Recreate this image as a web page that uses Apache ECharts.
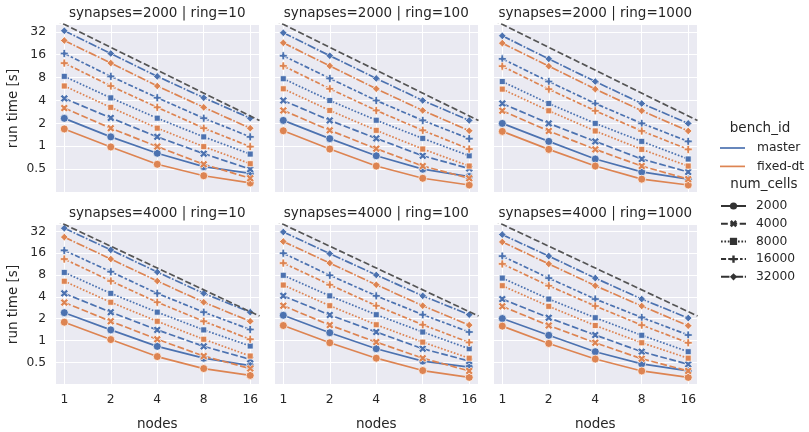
<!DOCTYPE html>
<html>
<head>
<meta charset="utf-8">
<script src="https://cdn.jsdelivr.net/npm/echarts@6/dist/echarts.min.js"></script>
<style>
html,body{margin:0;padding:0;background:#fff;}
#chart{width:809px;height:432px;}
</style>
</head>
<body>
<div id="chart"></div>
<script>
// ---------------- data ----------------
const NODES = [1, 2, 4, 8, 16];
const X_TICKS = [1, 2, 4, 8, 16];
const Y_TICKS = [0.5, 1, 2, 4, 8, 16, 32];
const BENCH_IDS = ['master', 'fixed-dt'];
const NUM_CELLS = ['2000', '4000', '8000', '16000', '32000'];
const PANEL_TITLES = [
  'synapses=2000 | ring=10', 'synapses=2000 | ring=100', 'synapses=2000 | ring=1000',
  'synapses=4000 | ring=10', 'synapses=4000 | ring=100', 'synapses=4000 | ring=1000'
];
// ideal-scaling reference: run time on 1 node, halves with every doubling
const IDEAL_T1 = [40, 40, 40, 40, 40, 40];

// rows: num_cells 2000, 4000, 8000, 16000, 32000; columns: nodes 1,2,4,8,16
const s2000_r10_master = [
  [2.33, 1.33, 0.81, 0.54, 0.44],
  [4.26, 2.36, 1.33, 0.80, 0.50],
  [8.30, 4.33, 2.34, 1.33, 0.79],
  [16.6, 8.30, 4.35, 2.34, 1.33],
  [33.0, 16.6, 8.30, 4.35, 2.34]
];
const s2000_r10_fixed = [
  [1.69, 0.98, 0.58, 0.41, 0.33],
  [3.18, 1.73, 0.99, 0.58, 0.38],
  [6.20, 3.25, 1.73, 0.99, 0.59],
  [12.4, 6.20, 3.25, 1.73, 0.99],
  [24.6, 12.4, 6.20, 3.25, 1.73]
];
const s2000_r100_master = [
  [2.19, 1.26, 0.75, 0.50, 0.40],
  [4.00, 2.19, 1.27, 0.75, 0.51],
  [7.73, 4.00, 2.20, 1.27, 0.75],
  [15.5, 7.80, 4.00, 2.19, 1.26],
  [31.0, 15.5, 7.80, 4.00, 2.19]
];
const s2000_r100_fixed = [
  [1.60, 0.92, 0.55, 0.38, 0.31],
  [2.96, 1.62, 0.93, 0.55, 0.38],
  [5.70, 2.96, 1.62, 0.92, 0.55],
  [11.4, 5.70, 2.96, 1.62, 0.92],
  [22.9, 11.4, 5.70, 2.96, 1.60]
];
const s2000_r1000_master = [
  [2.00, 1.16, 0.68, 0.46, 0.37],
  [3.65, 2.00, 1.16, 0.68, 0.46],
  [7.10, 3.65, 2.00, 1.16, 0.68],
  [14.1, 7.10, 3.65, 2.00, 1.16],
  [28.3, 14.1, 7.10, 3.65, 2.00]
];
const s2000_r1000_fixed = [
  [1.57, 0.91, 0.55, 0.37, 0.31],
  [2.93, 1.59, 0.91, 0.55, 0.37],
  [5.64, 2.93, 1.59, 0.91, 0.55],
  [11.3, 5.64, 2.93, 1.59, 0.91],
  [22.7, 11.3, 5.64, 2.93, 1.59]
];
const s4000_r10_master = [
  [2.42, 1.40, 0.83, 0.57, 0.45],
  [4.47, 2.46, 1.40, 0.83, 0.55],
  [8.70, 4.47, 2.46, 1.40, 0.84],
  [17.5, 8.90, 4.47, 2.46, 1.42],
  [35.4, 17.8, 8.80, 4.47, 2.46]
];
const s4000_r10_fixed = [
  [1.79, 1.03, 0.60, 0.41, 0.33],
  [3.34, 1.84, 1.04, 0.61, 0.41],
  [6.57, 3.37, 1.84, 1.04, 0.61],
  [13.3, 6.62, 3.37, 1.84, 1.04],
  [26.7, 13.3, 6.62, 3.37, 1.84]
];
const s4000_r100_master = [
  [2.23, 1.28, 0.77, 0.52, 0.43],
  [4.13, 2.25, 1.31, 0.77, 0.52],
  [7.94, 4.13, 2.27, 1.31, 0.77],
  [16.0, 7.94, 4.13, 2.27, 1.31],
  [31.4, 15.8, 8.03, 4.13, 2.27]
];
const s4000_r100_fixed = [
  [1.61, 0.93, 0.57, 0.385, 0.31],
  [3.02, 1.63, 0.95, 0.57, 0.38],
  [5.82, 3.02, 1.65, 0.95, 0.57],
  [11.7, 5.88, 3.02, 1.65, 0.94],
  [23.2, 11.7, 5.88, 3.02, 1.63]
];
const s4000_r1000_master = [
  [2.01, 1.18, 0.70, 0.476, 0.38],
  [3.73, 2.06, 1.19, 0.70, 0.47],
  [7.26, 3.73, 2.06, 1.18, 0.70],
  [14.6, 7.26, 3.73, 2.08, 1.19],
  [28.9, 14.6, 7.26, 3.73, 2.04]
];
const s4000_r1000_fixed = [
  [1.58, 0.91, 0.555, 0.38, 0.31],
  [2.96, 1.61, 0.93, 0.56, 0.38],
  [5.70, 2.96, 1.61, 0.93, 0.57],
  [11.4, 5.70, 2.99, 1.63, 0.93],
  [22.9, 11.4, 5.70, 2.99, 1.60]
];
const PANEL_DATA = [
  [s2000_r10_master, s2000_r10_fixed],
  [s2000_r100_master, s2000_r100_fixed],
  [s2000_r1000_master, s2000_r1000_fixed],
  [s4000_r10_master, s4000_r10_fixed],
  [s4000_r100_master, s4000_r100_fixed],
  [s4000_r1000_master, s4000_r1000_fixed]
];

// ---------------- style ----------------
const FONT = 'DejaVu Sans';
const TXT = '#262626';
const BENCH_COLORS = ['#4C72B0', '#DD8452'];
const STYLE_COLOR = '#333333';
const LW = 1.7;
const MARKERS = [
  'circle',
  'path://M1,0L2,1L3,0L4,1L3,2L4,3L3,4L2,3L1,4L0,3L1,2L0,1Z',
  'rect',
  'path://M2,0H4V2H6V4H4V6H2V4H0V2H2Z',
  'diamond'
];
const MARKER_SIZES = [8, 8, 6, 8, 7.6];
const DASHES = [
  'solid',
  [6.8, 2.55],
  [1.7, 1.7],
  [5.1, 2.1, 2.55, 2.1],
  [8.5, 1.7, 1.7, 1.7]
];
const XMIN = Math.pow(2, -0.2), XMAX = Math.pow(2, 4.2);
const YMIN = Math.pow(2, -2.04), YMAX = Math.pow(2, 5.34);

const COL_LEFT = [55, 274, 493];
const ROW_TOP = [24, 224];
const GW = 204.5, GH = 169;

function tickFormatter(list) {
  return function (v) {
    for (const t of list) {
      if (Math.abs(Math.log2(v) - Math.log2(t)) < 1e-6) return String(t);
    }
    return '';
  };
}

const grids = [], xAxes = [], yAxes = [], titles = [], series = [];
for (let p = 0; p < 6; p++) {
  const row = Math.floor(p / 3), col = p % 3;
  grids.push({
    left: COL_LEFT[col], top: ROW_TOP[row], width: GW, height: GH,
    show: true, backgroundColor: '#EAEAF2', borderWidth: 0, containLabel: false
  });
  xAxes.push({
    type: 'log', logBase: 2, gridIndex: p, min: XMIN, max: XMAX,
    axisLine: { show: false }, axisTick: { show: false },
    splitLine: { show: true, lineStyle: { color: '#ffffff', width: 1 } },
    minorSplitLine: { show: false },
    axisLabel: {
      show: row === 1, margin: 9, fontSize: 12.3, color: TXT, fontFamily: FONT,
      formatter: tickFormatter(X_TICKS)
    },
    name: row === 1 ? 'nodes' : '', nameLocation: 'middle', nameGap: 32,
    nameTextStyle: { fontSize: 13.5, color: TXT, fontFamily: FONT }
  });
  yAxes.push({
    type: 'log', logBase: 2, gridIndex: p, min: YMIN, max: YMAX,
    axisLine: { show: false }, axisTick: { show: false },
    splitLine: { show: true, lineStyle: { color: '#ffffff', width: 1 } },
    minorSplitLine: { show: false },
    axisLabel: {
      show: col === 0, margin: 9, fontSize: 12.3, color: TXT, fontFamily: FONT,
      formatter: tickFormatter(Y_TICKS)
    },
    name: col === 0 ? 'run time [s]' : '', nameLocation: 'middle', nameGap: 35,
    nameRotate: 90,
    nameTextStyle: { fontSize: 13.5, color: TXT, fontFamily: FONT }
  });
  titles.push({
    text: PANEL_TITLES[p], left: COL_LEFT[col] + GW / 2, top: ROW_TOP[row] - 18,
    textAlign: 'center', padding: 0,
    textStyle: { fontSize: 13.5, fontWeight: 'normal', color: TXT, fontFamily: FONT }
  });
  for (let b = 0; b < 2; b++) {
    for (let c = 0; c < 5; c++) {
      const vals = PANEL_DATA[p][b][c];
      series.push({
        type: 'line', xAxisIndex: p, yAxisIndex: p,
        name: BENCH_IDS[b] + ' ' + NUM_CELLS[c] + ' #' + p,
        data: NODES.map((n, i) => [n, vals[i]]),
        symbol: MARKERS[c], symbolSize: MARKER_SIZES[c], showSymbol: true,
        lineStyle: { color: BENCH_COLORS[b], width: LW, type: DASHES[c] },
        itemStyle: { color: BENCH_COLORS[b], borderColor: '#ffffff', borderWidth: 0.7 },
        z: 3, silent: true
      });
    }
  }
  series.push({
    type: 'line', xAxisIndex: p, yAxisIndex: p, name: 'ideal #' + p,
    data: [[XMIN, IDEAL_T1[p] / XMIN], [XMAX, IDEAL_T1[p] / XMAX]],
    symbol: 'none', clip: true,
    lineStyle: { color: '#555555', width: LW, type: [6.3, 2.7] },
    z: 4, silent: true
  });
}

// legend-only series
BENCH_IDS.forEach((name, b) => {
  series.push({
    type: 'line', name: name, xAxisIndex: 0, yAxisIndex: 0, data: [],
    symbol: 'none', lineStyle: { color: BENCH_COLORS[b], width: LW },
    itemStyle: { color: BENCH_COLORS[b] }
  });
});
NUM_CELLS.forEach((name, c) => {
  series.push({
    type: 'line', name: name, xAxisIndex: 0, yAxisIndex: 0, data: [],
    symbol: MARKERS[c], symbolSize: MARKER_SIZES[c],
    lineStyle: { color: STYLE_COLOR, width: LW, type: DASHES[c] },
    itemStyle: { color: STYLE_COLOR, borderColor: '#ffffff', borderWidth: 0 }
  });
});

titles.push({
  text: 'bench_id', left: 760, top: 121, textAlign: 'center', padding: 0,
  textStyle: { fontSize: 13.5, fontWeight: 'normal', color: TXT, fontFamily: FONT }
});
titles.push({
  text: 'num_cells', left: 764, top: 177, textAlign: 'center', padding: 0,
  textStyle: { fontSize: 13.5, fontWeight: 'normal', color: TXT, fontFamily: FONT }
});

const chart = echarts.init(document.getElementById('chart'), null, { renderer: 'canvas' });
chart.setOption({
  animation: false,
  textStyle: { fontFamily: FONT },
  title: titles,
  grid: grids,
  xAxis: xAxes,
  yAxis: yAxes,
  legend: [
    {
      data: BENCH_IDS.map(n => ({ name: n, icon: 'rect' })),
      orient: 'vertical', left: 720, top: 142, padding: 0,
      itemWidth: 25, itemHeight: 1.7, itemGap: 6.4, selectedMode: false,
      textStyle: { fontSize: 12.3, color: TXT, fontFamily: FONT, padding: [0, 0, 0, 7] }
    },
    {
      data: NUM_CELLS,
      orient: 'vertical', left: 720, top: 200, padding: 0,
      itemWidth: 25, itemHeight: 9, itemGap: 5.7, selectedMode: false,
      textStyle: { fontSize: 12.3, color: TXT, fontFamily: FONT, padding: [0, 0, 0, 5] }
    }
  ],
  series: series
});
</script>
</body>
</html>
